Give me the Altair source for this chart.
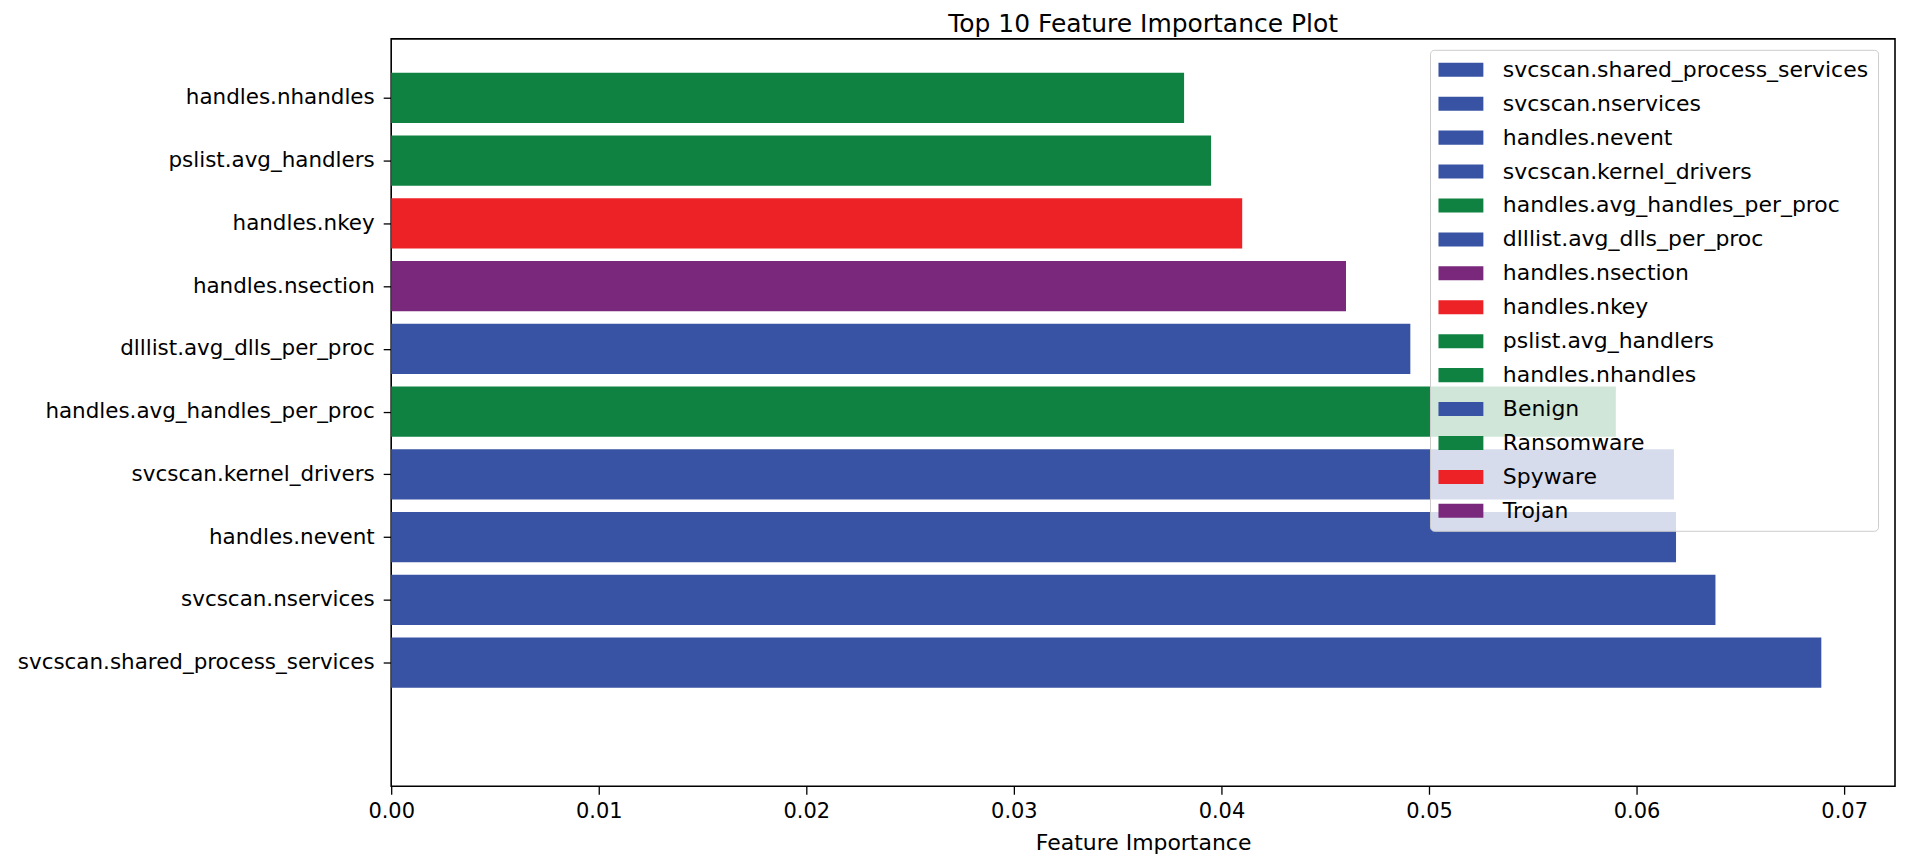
import altair as alt
import pandas as pd

# ---- data ----
features = [
    "svcscan.shared_process_services",
    "svcscan.nservices",
    "handles.nevent",
    "svcscan.kernel_drivers",
    "handles.avg_handles_per_proc",
    "dlllist.avg_dlls_per_proc",
    "handles.nsection",
    "handles.nkey",
    "pslist.avg_handlers",
    "handles.nhandles",
]
importance = [0.0689, 0.0638, 0.0619, 0.0618, 0.0590, 0.0491, 0.0460, 0.0410, 0.0395, 0.0382]
feature_class = ["Benign", "Benign", "Benign", "Benign", "Ransomware",
                 "Benign", "Trojan", "Spyware", "Ransomware", "Ransomware"]
classes = ["Benign", "Ransomware", "Spyware", "Trojan"]
class_colors = ["#3953a4", "#0f8241", "#ec2227", "#7a287b"]
x_ticks = [0.00, 0.01, 0.02, 0.03, 0.04, 0.05, 0.06, 0.07]

color_of = dict(zip(classes, class_colors))
df = pd.DataFrame({
    "feature": features,
    "importance": importance,
    "cls": feature_class,
    "rank": list(range(len(features))),
})

legend_domain = features + classes
legend_range = [color_of[c] for c in feature_class] + class_colors

label_expr = "[" + ",".join("'" + f + "'" for f in features) + "][datum.value]"

rect_path = "M-2.045,-0.64L2.045,-0.64L2.045,0.64L-2.045,0.64Z"

bars = alt.Chart(df).transform_calculate(
    lo="datum.rank - 0.4",
    hi="datum.rank + 0.4",
).mark_rect().encode(
    x=alt.X(
        "importance:Q",
        scale=alt.Scale(domain=[0, 0.07245], nice=False, zero=True),
        axis=alt.Axis(
            values=x_ticks, format=".2f", title="Feature Importance",
            grid=False, domain=False, tickSize=8, tickWidth=1.3, tickColor="black",
            labelFontSize=21, labelFont="DejaVu Sans", labelColor="black",
            labelPadding=6, labelFlush=False,
            titleFontSize=22, titleFont="DejaVu Sans", titleFontWeight="normal",
            titleColor="black", titlePadding=11,
        ),
    ),
    x2=alt.datum(0),
    y=alt.Y(
        "lo:Q",
        scale=alt.Scale(domain=[-1.97, 9.94], nice=False, zero=False),
        axis=alt.Axis(
            values=list(range(len(features))), labelExpr=label_expr, title=None,
            grid=False, domain=False, tickSize=8, tickWidth=1.3, tickColor="black",
            labelFontSize=21.5, labelFont="DejaVu Sans", labelColor="black",
            labelPadding=9, labelLimit=0,
        ),
    ),
    y2="hi:Q",
    color=alt.Color(
        "feature:N",
        scale=alt.Scale(domain=legend_domain, range=legend_range),
        legend=alt.Legend(
            title=None, orient="none", legendX=1041, legendY=11,
            direction="vertical",
            symbolType=rect_path, symbolSize=484, symbolStrokeWidth=0,
            symbolOpacity=1, symbolOffset=11, labelOffset=31,
            labelFontSize=22, labelFont="DejaVu Sans", labelColor="black",
            labelLimit=0, rowPadding=12, padding=9,
            fillColor="rgba(255,255,255,0.8)", strokeColor="#cccccc",
            cornerRadius=4,
        ),
    ),
)

chart = bars.properties(
    width=1507,
    height=749,
    title=alt.TitleParams(
        "Top 10 Feature Importance Plot", fontSize=25, font="DejaVu Sans",
        fontWeight="normal", anchor="middle", frame="group", offset=2,
        color="black",
    ),
    autosize=alt.AutoSizeParams(type="none"),
    padding={"left": 384, "top": 30, "right": 2, "bottom": 70},
).configure(
    background="white",
).configure_view(
    stroke="black", strokeWidth=1.6,
)

chart.save("out.html", embed_options={"renderer": "svg", "actions": False})
